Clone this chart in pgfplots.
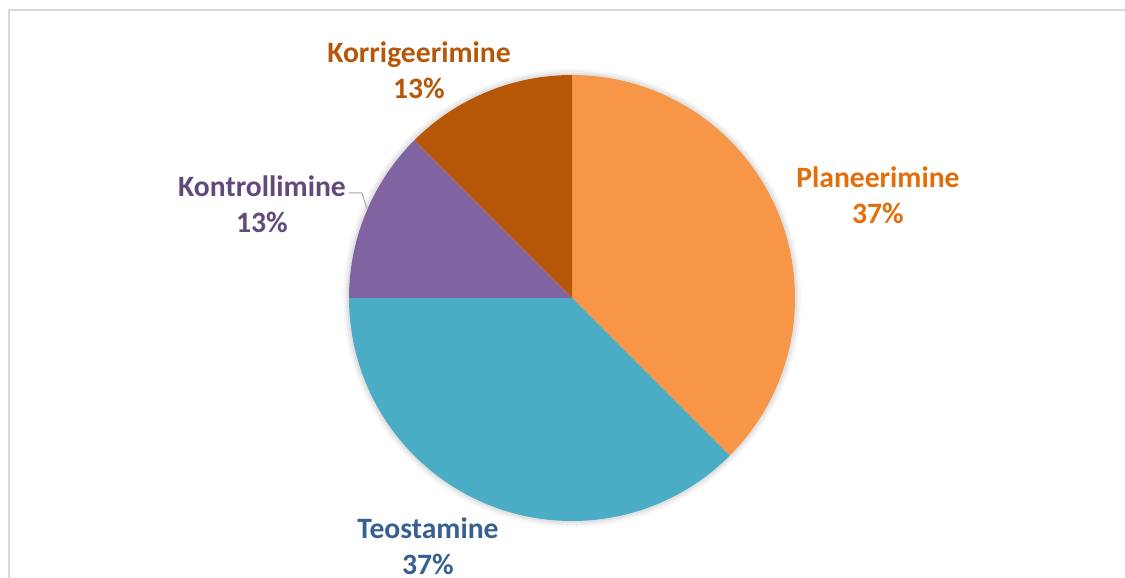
\documentclass[border=0pt]{standalone}
\usepackage{pgfplots}
\pgfplotsset{compat=1.18}
\usepackage{pgfplotstable}
\usepackage{fontspec}
\setmainfont{Carlito}
\definecolor{cPlan}{HTML}{F79646}
\definecolor{cTeo}{HTML}{4BACC6}
\definecolor{cKon}{HTML}{8064A2}
\definecolor{cKor}{HTML}{B65708}
\definecolor{tPlan}{HTML}{E46C0A}
\definecolor{tTeo}{HTML}{376092}
\definecolor{tKon}{HTML}{604A7B}
\definecolor{tKor}{HTML}{B65708}
\definecolor{frame}{HTML}{D9D9D9}

\pgfplotstableread{
label value
Planeerimine 37.5
Teostamine 37.5
Kontrollimine 12.5
Korrigeerimine 12.5
}\piedata

\pgfplotstablegetelem{0}{value}\of\piedata \let\vA\pgfplotsretval
\pgfplotstablegetelem{1}{value}\of\piedata \let\vB\pgfplotsretval
\pgfplotstablegetelem{2}{value}\of\piedata \let\vC\pgfplotsretval
\pgfplotstablegetelem{3}{value}\of\piedata \let\vD\pgfplotsretval
\pgfmathsetmacro\tot{\vA+\vB+\vC+\vD}
\pgfmathsetmacro\aA{90-360*\vA/\tot}
\pgfmathsetmacro\aB{\aA-360*\vB/\tot}
\pgfmathsetmacro\aC{\aB-360*\vC/\tot}
\pgfmathsetmacro\aD{\aC-360*\vD/\tot}
\def\R{111.5pt}

\begin{document}
\begin{tikzpicture}
\useasboundingbox (0,0) rectangle (562.5pt,289pt);
\begin{axis}[
  at={(0,0)}, anchor=origin,
  x=0.5pt, y=0.5pt,
  xmin=0, xmax=1125, ymin=0, ymax=578,
  hide axis, clip=false,
]
% frame
\draw[frame, line width=1pt] (axis cs:8.5,-10) -- (axis cs:8.5,568) -- (axis cs:1135,568);
% soft shadow
\fill[black, opacity=0.03] (axis cs:572,280) circle[radius=114.5pt];
\fill[black, opacity=0.04] (axis cs:572,280) circle[radius=113.5pt];
\fill[black, opacity=0.05] (axis cs:572,280) circle[radius=112.5pt];
% wedges
\fill[cPlan] (axis cs:572,280) -- ++(90:\R) arc[start angle=90, end angle=\aA, radius=\R] -- cycle;
\fill[cTeo] (axis cs:572,280) -- ++(\aA:\R) arc[start angle=\aA, end angle=\aB, radius=\R] -- cycle;
\fill[cKon] (axis cs:572,280) -- ++(\aB:\R) arc[start angle=\aB, end angle=\aC, radius=\R] -- cycle;
\fill[cKor] (axis cs:572,280) -- ++(\aC:\R) arc[start angle=\aC, end angle=\aD, radius=\R] -- cycle;
% leader line
\draw[gray!70, line width=0.5pt] (axis cs:349,385) -- (axis cs:362,385) -- (axis cs:367,369);
% labels
\node[align=center, font=\fontsize{14.8}{18}\selectfont\bfseries, text=tKor] at (axis cs:419,507.5) {Korrigeerimine\\13\%};
\node[align=center, font=\fontsize{14.8}{18}\selectfont\bfseries, text=tPlan] at (axis cs:878,383) {Planeerimine\\37\%};
\node[align=center, font=\fontsize{14.8}{18}\selectfont\bfseries, text=tKon] at (axis cs:262,373.5) {Kontrollimine\\13\%};
\node[align=center, font=\fontsize{14.8}{18}\selectfont\bfseries, text=tTeo] at (axis cs:428,31.5) {Teostamine\\37\%};
\end{axis}
\end{tikzpicture}
\end{document}
